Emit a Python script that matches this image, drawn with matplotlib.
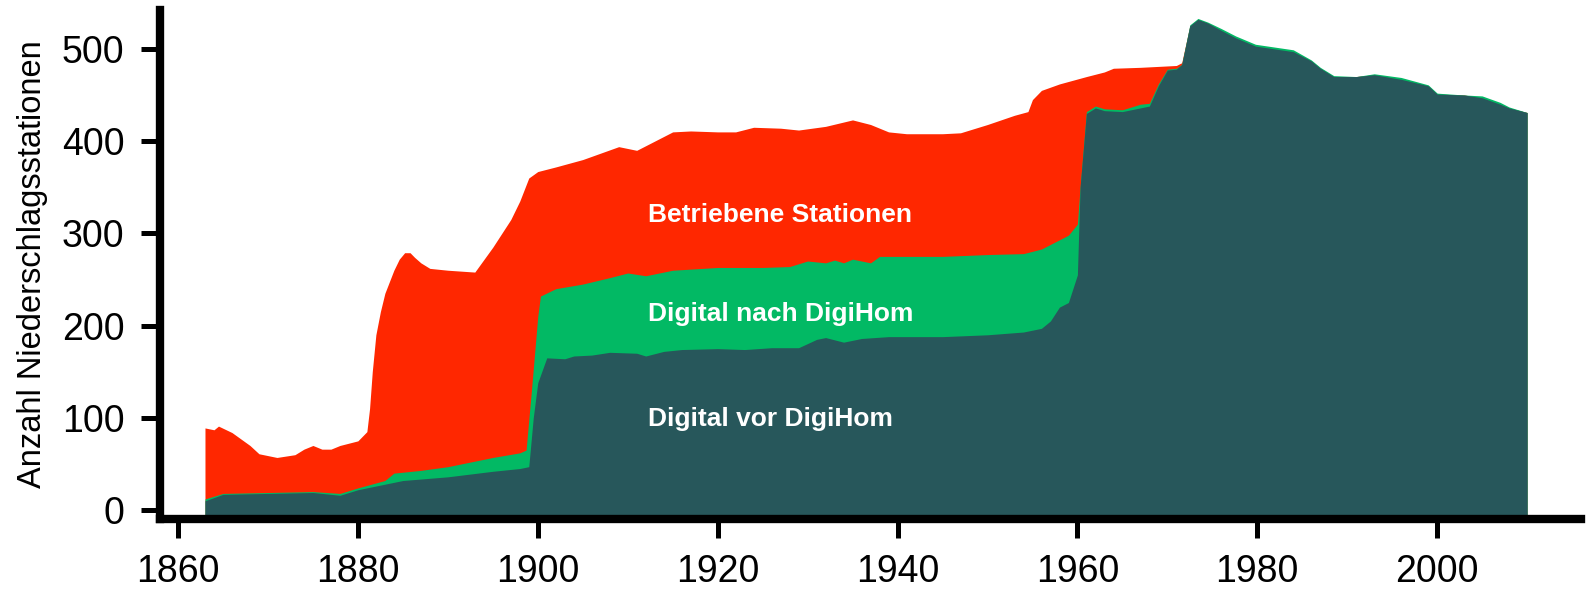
import matplotlib
matplotlib.use("Agg")
import matplotlib.pyplot as plt

plt.rcParams["font.family"] = ["Liberation Sans", "DejaVu Sans"]

# ── data ──────────────────────────────────────────────────────────────────────
years_total = [1863, 1864, 1864.5, 1866, 1867, 1868, 1869, 1871, 1873, 1874, 1875, 1876,
               1877, 1878, 1880, 1881, 1881.3, 1881.6, 1882, 1882.5, 1883, 1884, 1884.6,
               1885.2, 1885.8, 1886.3, 1887, 1888,
               1890, 1893, 1895, 1897, 1898, 1899, 1900, 1902, 1905, 1907, 1909, 1911,
               1913, 1915, 1917, 1920, 1922, 1924, 1927, 1929, 1932, 1935, 1937, 1939,
               1941, 1945, 1947, 1950, 1953, 1954.5, 1955, 1956, 1958, 1961, 1963, 1964,
               1967, 1971, 1971.6, 1972.5, 1973.4, 1974.5, 1976, 1977.6, 1979.8, 1984,
               1986, 1987, 1988.5, 1991, 1993, 1996, 1999, 2000, 2003, 2005, 2007, 2008,
               2010]
total = [89, 87, 91, 84, 77, 70, 61, 57, 60, 66, 70, 66,
         66, 70, 75, 85, 110, 150, 190, 215, 235, 260, 272,
         279, 279, 274, 268, 262,
         260, 258, 285, 315, 335, 360, 367, 372, 380, 387, 394, 390,
         400, 410, 411, 410, 410, 415, 414, 412, 416, 423, 418, 410,
         408, 408, 409, 418, 428, 432, 445, 455, 462, 470, 475, 479,
         480, 482, 485, 525, 532, 528, 520, 512, 503, 497,
         487, 479, 470, 470, 472, 467, 460, 451, 450, 447, 440, 436,
         431]

years_nach = [1863, 1865, 1870, 1875, 1878, 1880, 1883, 1884, 1887, 1890, 1893, 1895,
              1898, 1898.7, 1899.3, 1900, 1900.3, 1902, 1905, 1908, 1910, 1912, 1915,
              1920, 1925, 1928, 1930, 1932, 1933, 1934, 1935, 1936, 1937, 1938, 1940,
              1945, 1950, 1954, 1956, 1958, 1959, 1960, 1960.3, 1961, 1962, 1963, 1965,
              1967, 1968, 1969, 1970, 1971, 1971.6, 1972.5, 1973.4, 1974.5, 1976, 1977.6,
              1979.8, 1984, 1986, 1987, 1988.5, 1991, 1993, 1996, 1999, 2000, 2003, 2005,
              2007, 2008, 2010]
nach = [12, 18, 19, 20, 18, 24, 32, 40, 43, 47, 53, 57,
        62, 65, 130, 210, 232, 240, 245, 252, 257, 254, 260,
        263, 263, 264, 270, 268, 271, 268, 272, 270, 268, 275, 275,
        275, 277, 278, 283, 293, 298, 310, 350, 432, 438, 435, 434,
        440, 441, 462, 478, 479, 483, 526, 533, 529, 522, 514,
        505, 499, 488, 480, 471, 470, 473, 469, 461, 452, 450, 449,
        442, 437, 431]

years_vor = [1863, 1865, 1870, 1875, 1878, 1880, 1883, 1885, 1890, 1895, 1898, 1899,
             1899.5, 1900, 1901, 1903, 1904, 1906, 1908, 1911, 1912, 1914, 1916, 1920,
             1923, 1926, 1929, 1931, 1932, 1934, 1936, 1939, 1945, 1950, 1954, 1956,
             1957, 1958, 1959, 1960, 1960.3, 1961, 1962, 1963, 1965, 1967, 1968, 1969,
             1970, 1971, 1971.6, 1972.5, 1973.4, 1974.5, 1976, 1977.6, 1979.8, 1984,
             1986, 1987, 1988.5, 1991, 1993, 1996, 1999, 2000, 2003, 2005, 2007, 2008,
             2010]
vor = [10, 17, 18, 19, 16, 22, 28, 32, 36, 42, 45, 47,
       100, 138, 165, 164, 167, 168, 171, 170, 167, 172, 174, 175,
       174, 176, 176, 185, 187, 182, 186, 188, 188, 190, 193, 197,
       205, 220, 225, 255, 350, 430, 436, 433, 432, 436, 438, 460,
       477, 478, 483, 525, 532, 528, 520, 512, 503, 497,
       487, 479, 470, 470, 472, 467, 460, 451, 450, 447, 440, 436,
       431]

labels = ["Betriebene Stationen", "Digital nach DigiHom", "Digital vor DigiHom"]
label_y = [320, 213, 99]
colors = ["#FF2700", "#02B964", "#27575B"]

Y_BOTTOM = -9.5

fig = plt.figure(figsize=(15.89, 5.97), dpi=100)
ax = fig.add_axes([0.1007, 0.131, 0.8943, 0.852])

for (yrs, vals), c in zip([(years_total, total), (years_nach, nach), (years_vor, vor)], colors):
    ax.fill_between(yrs, vals, Y_BOTTOM, color=c, lw=0, zorder=1)

for lab, ly in zip(labels, label_y):
    ax.text(1912.3, ly, lab, color="white", fontsize=19, fontweight="bold",
            ha="left", va="center", zorder=3)

ax.set_xlim(1858, 2016)
ax.set_ylim(Y_BOTTOM, 542)
ax.set_xticks([1860, 1880, 1900, 1920, 1940, 1960, 1980, 2000])
ax.set_yticks([0, 100, 200, 300, 400, 500])
ax.spines[["top", "right"]].set_visible(False)
for s in ("left", "bottom"):
    ax.spines[s].set_linewidth(6)
ax.tick_params(axis="both", length=13.5, width=3.6, labelsize=27, direction="out")
ax.tick_params(axis="y", pad=12)
ax.tick_params(axis="x", pad=12)
ax.set_ylabel("Anzahl Niederschlagsstationen", fontsize=23.5)
ax.yaxis.set_label_coords(-0.079, 0.5)

fig.savefig("out.png", dpi=100)
